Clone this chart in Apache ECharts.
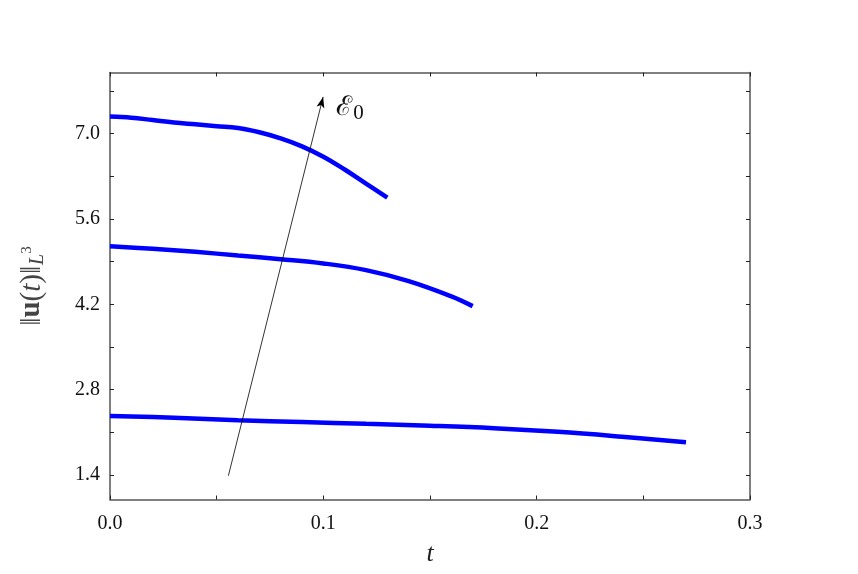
<!DOCTYPE html>
<html>
<head>
    <meta charset="UTF-8">
    <title>norm u(t) L3</title>
    <script type="text/javascript" src="https://cdn.jsdelivr.net/npm/echarts@6/dist/echarts.min.js"></script>
    <style>
        *{margin:0;padding:0}
        html,body{width:100%;height:100%;background:#fff}
        #main{width:858px;height:574px}
    </style>
</head>
<body>
<div id="main"></div>
<script type="text/javascript">
    // curve data
    var t1 = [0, 0.01, 0.02, 0.03, 0.04, 0.05, 0.06, 0.07, 0.08, 0.09, 0.10, 0.11, 0.12, 0.13];
    var u1 = [7.28, 7.26, 7.22, 7.18, 7.15, 7.12, 7.09, 7.02, 6.92, 6.79, 6.62, 6.41, 6.18, 5.95];
    var t2 = [0, 0.02, 0.04, 0.06, 0.08, 0.10, 0.12, 0.14, 0.16, 0.17];
    var u2 = [5.15, 5.11, 5.06, 5.00, 4.94, 4.87, 4.76, 4.58, 4.33, 4.17];
    var t3 = [0, 0.03, 0.06, 0.09, 0.12, 0.15, 0.18, 0.21, 0.24, 0.27];
    var u3 = [2.37, 2.34, 2.30, 2.27, 2.24, 2.21, 2.17, 2.11, 2.03, 1.94];

    var xTicks = [0, 0.05, 0.1, 0.15, 0.2, 0.25, 0.3];
    var xLabels = [0, 0.1, 0.2, 0.3];
    var yTicks = [1.4, 2.1, 2.8, 3.5, 4.2, 4.9, 5.6, 6.3, 7.0, 7.7];
    var yLabels = [1.4, 2.8, 4.2, 5.6, 7.0];

    // arrow showing growth of E0
    var arrowFrom = [0.0555, 1.39];
    var arrowTo = [0.0999, 7.60];

    function pairs(xs, ys) {
        return xs.map(function (x, i) { return [x, ys[i]]; });
    }

    var axisCol = '#555';
    var serif = 'Liberation Serif';

    function xAx(pos, showLabel) {
        return {
            type: 'value', position: pos, min: 0, max: 0.3,
            axisLine: {show: true, onZero: false, lineStyle: {color: axisCol, width: 1.5}},
            axisTick: {show: true, inside: true, length: 4, customValues: xTicks, lineStyle: {color: '#222'}},
            axisLabel: {show: showLabel, customValues: xLabels, color: '#111', fontFamily: serif, fontSize: 20, margin: 14,
                formatter: function (v) { return v.toFixed(1); }},
            splitLine: {show: false},
            name: showLabel ? 't' : '',
            nameLocation: 'middle', nameGap: 42,
            nameTextStyle: {fontFamily: serif, fontStyle: 'italic', fontSize: 26, color: '#222'}
        };
    }

    function yAx(pos, showLabel) {
        return {
            type: 'value', position: pos, min: 1, max: 8,
            axisLine: {show: true, onZero: false, lineStyle: {color: axisCol, width: 1.5}},
            axisTick: {show: true, inside: true, length: 4, customValues: yTicks, lineStyle: {color: '#222'}},
            axisLabel: {show: showLabel, customValues: yLabels, color: '#111', fontFamily: serif, fontSize: 20, margin: 10,
                formatter: function (v) { return v.toFixed(1); }},
            splitLine: {show: false},
            name: showLabel ? '{n|‖}{b|u}{n|(}{i|t}{n|)‖}{s|L}{p|3}' : '',
            nameLocation: 'middle', nameGap: 62, nameRotate: 90,
            nameTextStyle: {
                color: '#444', fontFamily: serif, fontSize: 28,
                rich: {
                    n: {fontFamily: serif, fontSize: 29, color: '#444'},
                    b: {fontFamily: serif, fontSize: 29, fontWeight: 'bold', color: '#444'},
                    i: {fontFamily: serif, fontSize: 29, fontStyle: 'italic', color: '#444'},
                    s: {fontFamily: serif, fontSize: 20, fontStyle: 'italic', color: '#444', padding: [12, 0, 0, 1]},
                    p: {fontFamily: serif, fontSize: 15, color: '#444', padding: [0, 0, 10, 0]}
                }
            }
        };
    }

    function curve(xs, ys) {
        return {
            type: 'line', data: pairs(xs, ys), smooth: 0.4, showSymbol: false,
            xAxisIndex: 0, yAxisIndex: 0,
            lineStyle: {color: '#0000ff', width: 4.5}, silent: true
        };
    }

    var option = {
        animation: false,
        backgroundColor: '#fff',
        grid: {left: 110, right: 108, top: 72.5, bottom: 74.5},
        xAxis: [xAx('bottom', true), xAx('top', false)],
        yAxis: [yAx('left', true), yAx('right', false)],
        series: [
            curve(t1, u1),
            curve(t2, u2),
            curve(t3, u3),
            {
                type: 'line', data: [], xAxisIndex: 0, yAxisIndex: 0, silent: true,
                markLine: {
                    silent: true, animation: false,
                    symbol: ['none', 'arrow'], symbolSize: [6, 11],
                    lineStyle: {color: '#000', width: 0.8, type: 'solid'},
                    label: {show: false},
                    data: [[{coord: arrowFrom}, {coord: arrowTo}]]
                },
                markPoint: {
                    silent: true, symbol: 'circle', symbolSize: 1,
                    itemStyle: {color: 'rgba(0,0,0,0)'},
                    label: {
                        show: true, position: 'inside',
                        formatter: '{e|ℰ}{s|0}',
                        rich: {
                            e: {fontFamily: 'DejaVu Serif', fontSize: 27, color: '#111'},
                            s: {fontFamily: serif, fontSize: 21, color: '#111', padding: [12, 0, 0, 1]}
                        }
                    },
                    data: [{coord: [0.1125, 7.42]}]
                }
            }
        ]
    };

    var myChart = echarts.init(document.getElementById('main'));
    myChart.setOption(option);
</script>
</body>
</html>
